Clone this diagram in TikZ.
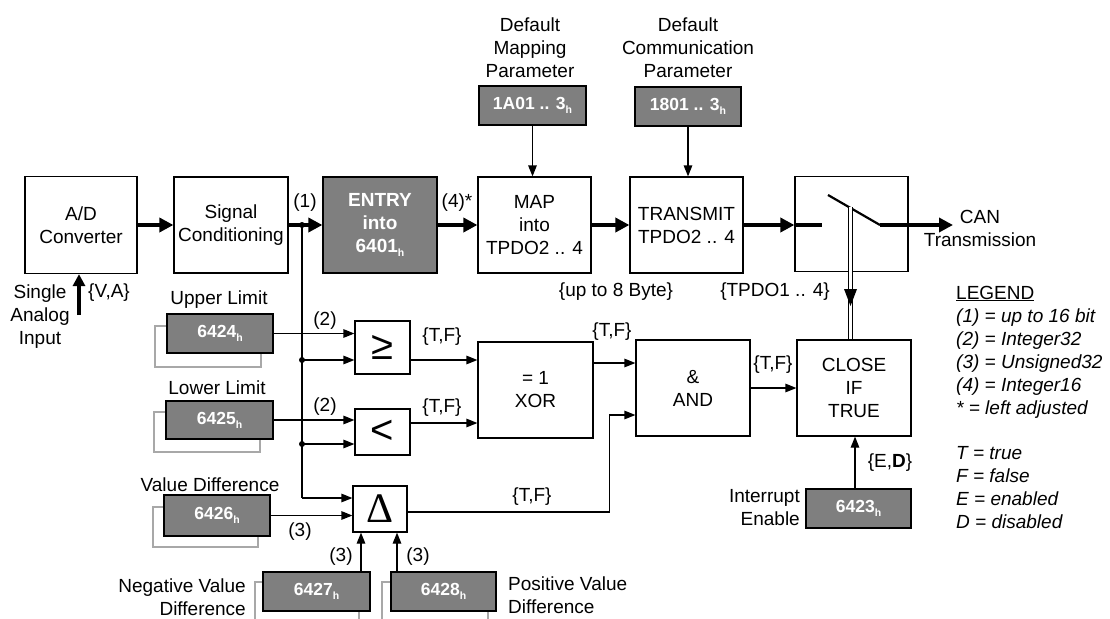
\documentclass[tikz,border=0pt]{standalone}
\usepackage{fontspec}
\setmainfont{Liberation Sans}
\newfontfamily\serifgreek{Liberation Serif}
\usetikzlibrary{arrows.meta,calc}
\definecolor{boxgray}{HTML}{7F7F7F}
\definecolor{shadowgray}{HTML}{A8A8A8}
\newcommand\fs{\fontsize{19}{23}\selectfont}
\newcommand\gfs{\fontsize{17.5}{20}\selectfont\bfseries}
\newcommand\hsub{\raisebox{-4pt}{\fontsize{10.5}{10.5}\selectfont\bfseries h}}
\begin{document}
\begin{tikzpicture}[x=1pt,y=-1pt,
  every node/.style={font=\fs, inner sep=0pt},
  blk/.style 2 args={draw, line width=1.2pt, align=center, minimum width=#1pt, minimum height=#2pt},
  gbox/.style 2 args={blk={#1}{#2}, fill=boxgray, text=white, font=\gfs},
  shadowline/.style={draw=shadowgray, line width=1.2pt},
  thickarr/.style={line width=4.5pt, -{Triangle[length=14pt,width=14pt]}},
  thinarr/.style={line width=1.2pt, -{Triangle[length=11pt,width=8.5pt]}},
  thinline/.style={line width=1.2pt},
  dot/.style={fill=black}]
\useasboundingbox (0,0) rectangle (1110,618);

% ---- main row
\node[blk={112}{97}] (ad) at (81,225) {A/D\\Converter};
\node[blk={114}{96}] (sc) at (231,225) {Signal\\Conditioning};
\node[gbox={114}{96}, font=\fontsize{19}{23}\selectfont\bfseries] (entry) at (380,225) {ENTRY\\into\\6401\hsub};
\node[blk={113}{96}] (map) at (534.5,225) {MAP\\into\\TPDO2 .. 4};
\node[blk={113}{96}] (tx) at (686.5,225) {TRANSMIT\\TPDO2 .. 4};
\node[blk={113}{95}] (sw) at (851.5,224) {};

% ---- logic blocks
\node[blk={115}{96}] (xor) at (535.5,390) {= 1\\XOR};
\node[blk={114}{96}] (and) at (693,388) {\&\\AND};
\node[blk={114}{96}] (close) at (854,388) {CLOSE\\IF\\TRUE};
\node[blk={55}{53}, font=\fontsize{40}{40}\selectfont] (geq) at (382.5,347.5) {≥};
\node[blk={55}{46}, font=\fontsize{40}{40}\selectfont] (lt) at (382.5,432) {<};
\node[blk={54}{46}, font=\serifgreek\fontsize{42}{42}\selectfont] (delta) at (380,509) {Δ};

% ---- parameter boxes
\node[gbox={107}{39}] (g1a01) at (532.5,105.5) {1A01 .. 3\hsub};
\node[gbox={106}{39}] (g1801) at (688,106.5) {1801 .. 3\hsub};

\path[shadowline] (155,326) rectangle (261,367);
\node[gbox={106}{39}] (g6424) at (220,333.5) {6424\hsub};
\path[shadowline] (154,412) rectangle (260,452);
\node[gbox={107}{38}] (g6425) at (219.5,420) {6425\hsub};
\path[shadowline] (153,507) rectangle (258,547);
\node[gbox={106}{41}] (g6426) at (217,515.5) {6426\hsub};
\path[shadowline] (255,582) rectangle (359,626);
\node[gbox={107}{39}] (g6427) at (316.5,591.5) {6427\hsub};
\path[shadowline] (382,582) rectangle (488,626);
\node[gbox={105}{39}] (g6428) at (443.5,591.5) {6428\hsub};
\node[gbox={105}{39}] (g6423) at (858.5,508.5) {6423\hsub};

% ---- thick signal path
\draw[thickarr] (ad.east) -- (sc.west);
\draw[thickarr] (sc.east) -- (entry.west);
\draw[thickarr] (entry.east) -- (map.west);
\draw[thickarr] (map.east) -- (tx.west);
\draw[thickarr] (tx.east) -- (sw.west |- tx.east);

% switch
\coordinate (s1) at (822,225);
\coordinate (b1) at (828,195);
\coordinate (b2) at (880,225);
\coordinate (canin) at (953,225);
\draw[line width=4.5pt] (sw.west |- tx.east) -- (s1);
\draw[line width=2.2pt] (b1) -- (b2);
\draw[thickarr] (b2) -- (canin);
\node[align=center] (can) at (980,228) {CAN\\Transmission};

% mechanical link
\coordinate (lk) at (850.5,207);
\draw[line width=1pt, double=white, double distance=2.6pt] (lk) -- (lk |- close.north);
\fill (844,289) -- (857,289) -- (850.5,306) -- cycle;

% analog input
\coordinate (ain) at (79,315);
\draw[line width=4pt, -{Triangle[length=12pt,width=12pt]}] (ain) -- (ain |- ad.south);
\node[align=center] (sai) at (40,317) {Single\\Analog\\Input};
\node (va) at (109,293) {\{V,A\}};

% parameter arrows
\draw[thinarr] (g1a01.south) -- (g1a01.south |- map.north);
\draw[thinarr] (g1801.south) -- (g1801.south |- tx.north);

% branch from signal conditioning
\coordinate (j1) at (302,225);
\coordinate (j2) at (302,360);
\coordinate (j3) at (302,444);
\coordinate (j4) at (302,498);
\draw[thinline] (j1) -- (j4);
\fill[dot] (j1) circle[radius=3pt];
\fill[dot] (j2) circle[radius=3pt];
\fill[dot] (j3) circle[radius=3pt];
\draw[thinarr] (j2) -- (j2 -| geq.west);
\draw[thinarr] (j3) -- (j3 -| lt.west);
\draw[thinarr] (j4) -- (j4 -| delta.west);

\draw[thinarr] (g6424.east) -- (g6424.east -| geq.west);
\draw[thinarr] (g6425.east) -- (g6425.east -| lt.west);
\draw[thinarr] (g6426.east) -- (g6426.east -| delta.west);

\draw[thinarr] (geq.east |- j2) -- (xor.west |- j2);
\draw[thinarr] ([yshift=9pt]lt.east) coordinate (lo) -- (lo -| xor.west);
\draw[thinarr] ([yshift=27pt]xor.east) coordinate (xo) -- (xo -| and.west);
\coordinate (ai) at ([yshift=-27pt]and.west);
\draw[thinarr] ([yshift=-3pt]delta.east) -| ($(ai)+(-26,0)$) -- (ai);
\draw[thinarr] (and.east) -- (close.west);
\draw[thinarr] ([xshift=-3.5pt]g6423.north) coordinate (io) -- (io |- close.south);
\draw[thinarr] ([xshift=44.5pt]g6427.north) coordinate (u1) -- (u1 |- delta.south);
\draw[thinarr] ([xshift=-46.5pt]g6428.north) coordinate (u2) -- (u2 |- delta.south);

% ---- labels
\node (l1) at (305,203) {(1)};
\node (l4) at (457,203) {(4)*};
\node (lb) at (616,292) {\{up to 8 Byte\}};
\node (lt14) at (775,292) {\{TPDO1 .. 4\}};
\node (l2a) at (325,321) {(2)};
\node (l2b) at (325,407) {(2)};
\node (tf1) at (442,337) {\{T,F\}};
\node (tf2) at (442,408) {\{T,F\}};
\node (tf3) at (612,332) {\{T,F\}};
\node (tf4) at (773,365) {\{T,F\}};
\node (tf5) at (532,497) {\{T,F\}};
\node (l3a) at (300,532) {(3)};
\node (l3b) at (341,557) {(3)};
\node (l3c) at (418,557) {(3)};
\node (ed) at (890,463) {\{E,\textbf{D}\}};
\node (ul) at (219,300) {Upper Limit};
\node (ll) at (217,388) {Lower Limit};
\node (vd) at (210,485) {Value Difference};
\node[align=right, anchor=east] (nvd) at (246,597) {Negative Value\\Difference};
\node[align=left, anchor=west] (pvd) at (508,595) {Positive Value\\Difference};
\node[align=right, anchor=east] (ie) at (800,508) {Interrupt\\Enable};
\node[align=center] (dmp) at (530,48) {Default\\Mapping\\Parameter};
\node[align=center] (dcp) at (688,48) {Default\\Communication\\Parameter};

% ---- legend
\node[anchor=base west] (leg) at (956,299) {\underline{LEGEND}};
\foreach \t/\y [count=\i] in {{(1) = up to 16 bit}/322, {(2) = Integer32}/345, {(3) = Unsigned32}/368,
  {(4) = Integer16}/391, {* = left adjusted}/414, {T = true}/459, {F = false}/482,
  {E = enabled}/505, {D = disabled}/528}
  \node[anchor=base west, font=\fs\itshape] (leg\i) at (956,\y) {\t};
\end{tikzpicture}
\end{document}
